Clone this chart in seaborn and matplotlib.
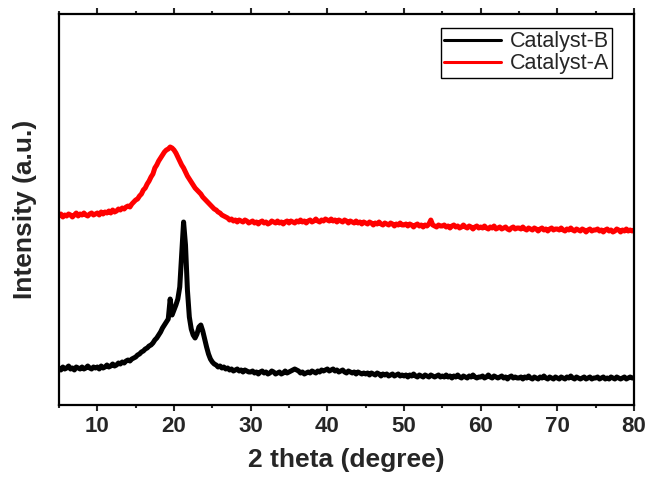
import numpy as np
import pandas as pd
import matplotlib
matplotlib.use("Agg")
import matplotlib.pyplot as plt
import seaborn as sns

# 2 theta grid, 0.25 degree steps from 5 to 80
two_theta = np.arange(5.0, 80.01, 0.25)

# Intensities (a.u.), one row = 5 degrees
catalyst_a = [
    189, 191, 188, 190, 189, 191, 190, 188, 190, 192, 189, 191, 190, 192, 190, 189, 191, 192, 190, 191,
    192, 190, 193, 191, 193, 192, 194, 192, 195, 193, 194, 196, 195, 197, 196, 198, 199, 198, 201, 203,
    205, 206, 209, 211, 215, 217, 221, 224, 228, 231, 237, 240, 244, 247, 250, 253, 255, 256, 258, 257,
    255, 252, 248, 244, 240, 237, 233, 229, 226, 223, 220, 217, 215, 213, 211, 208, 206, 204, 202, 200,
    198, 196, 195, 193, 192, 190, 189, 188, 187, 185, 186, 184, 185, 183, 185, 184, 183, 185, 184, 182,
    183, 184, 182, 183, 181, 183, 184, 182, 183, 181, 182, 184, 183, 182, 184, 182, 183, 181, 183, 184,
    182, 184, 183, 182, 184, 183, 185, 183, 184, 182, 184, 185, 183, 184, 186, 184, 183, 185, 184, 186,
    185, 184, 186, 184, 185, 183, 185, 184, 183, 185, 184, 182, 184, 183, 182, 184, 182, 183, 181, 183,
    182, 181, 183, 182, 180, 182, 181, 183, 181, 180, 182, 181, 180, 182, 181, 179, 181, 180, 182, 180,
    180, 181, 179, 181, 180, 178, 180, 181, 179, 180, 178, 180, 179, 181, 185, 180, 179, 178, 180, 179,
    179, 180, 178, 179, 177, 179, 180, 178, 179, 177, 178, 180, 178, 177, 179, 178, 176, 178, 179, 177,
    178, 177, 179, 177, 176, 178, 177, 179, 176, 177, 178, 176, 177, 178, 176, 175, 177, 178, 176, 177,
    177, 176, 178, 176, 175, 177, 176, 175, 177, 176, 174, 176, 177, 175, 176, 174, 176, 177, 175, 176,
    176, 175, 177, 175, 174, 176, 175, 177, 175, 174, 176, 175, 174, 176, 175, 173, 175, 176, 174, 175,
    175, 176, 174, 175, 173, 175, 176, 174, 175, 173, 174, 176, 175, 173, 175, 174, 176, 174, 175, 174,
    175,
]

catalyst_b = [
    37, 35, 38, 36, 37, 39, 36, 37, 35, 38, 37, 36, 38, 36, 37, 39, 37, 36, 38, 37,
    38, 36, 39, 37, 38, 40, 38, 39, 41, 39, 40, 42, 41, 43, 42, 44, 45, 44, 46, 47,
    48, 50, 51, 53, 54, 56, 57, 59, 60, 62, 65, 67, 70, 73, 77, 80, 83, 86, 106, 90,
    95, 100, 106, 118, 150, 183, 160, 115, 88, 76, 70, 67, 71, 78, 80, 74, 66, 58, 51, 46,
    43, 41, 40, 38, 39, 37, 38, 36, 37, 35, 36, 34, 35, 36, 34, 35, 33, 35, 34, 33,
    33, 34, 32, 33, 31, 33, 34, 32, 33, 31, 32, 34, 33, 31, 32, 33, 31, 32, 34, 32,
    33, 34, 35, 36, 35, 34, 32, 33, 31, 32, 33, 32, 34, 33, 32, 34, 33, 35, 34, 35,
    36, 34, 35, 36, 34, 35, 33, 34, 35, 33, 32, 34, 33, 32, 33, 31, 33, 32, 31, 32,
    31, 32, 30, 32, 31, 30, 32, 31, 29, 31, 30, 31, 29, 30, 31, 29, 30, 31, 29, 30,
    29, 30, 28, 30, 29, 31, 29, 28, 30, 29, 28, 30, 29, 28, 30, 29, 28, 29, 30, 28,
    29, 28, 30, 28, 29, 27, 29, 28, 30, 28, 27, 29, 28, 27, 29, 28, 30, 28, 27, 28,
    28, 29, 27, 28, 30, 28, 27, 29, 28, 27, 28, 29, 27, 28, 26, 28, 29, 27, 28, 27,
    27, 28, 26, 28, 27, 29, 27, 26, 28, 27, 26, 28, 27, 29, 27, 26, 28, 27, 26, 28,
    27, 26, 28, 27, 26, 28, 27, 29, 27, 26, 28, 27, 26, 27, 28, 26, 27, 28, 26, 27,
    27, 28, 26, 27, 28, 26, 27, 26, 28, 27, 26, 28, 27, 26, 27, 28, 26, 27, 28, 27,
    27,
]

samples = ["Catalyst-B", "Catalyst-A"]
colors = ["black", "red"]

df = pd.concat([
    pd.DataFrame({"two_theta": two_theta, "intensity": catalyst_b, "sample": "Catalyst-B"}),
    pd.DataFrame({"two_theta": two_theta, "intensity": catalyst_a, "sample": "Catalyst-A"}),
])

sns.set_style("ticks")
plt.rcParams["font.family"] = ["Liberation Sans", "DejaVu Sans"]

fig = plt.figure(figsize=(6.51, 4.82), dpi=100)
ax = fig.add_axes([59 / 651, 77 / 482, 575 / 651, 391 / 482])

sns.lineplot(data=df, x="two_theta", y="intensity", hue="sample",
             hue_order=samples, palette=colors, estimator=None, sort=False,
             linewidth=3.6, ax=ax)

ax.set_xlim(5, 80)
ax.set_ylim(0, 391)
ax.set_xticks(range(10, 81, 10))
ax.set_xticks(range(5, 81, 10), minor=True)
ax.set_yticks([])
ax.tick_params(axis="x", which="major", direction="out", length=4, width=1.5,
               top=True, labelsize=16, pad=4)
ax.tick_params(axis="x", which="minor", direction="out", length=2.5, width=1.5, top=True)
for lbl in ax.get_xticklabels():
    lbl.set_fontweight("bold")
for sp in ax.spines.values():
    sp.set_visible(True)
    sp.set_linewidth(1.6)
    sp.set_color("black")

ax.set_xlabel("2 theta (degree)", fontsize=19, fontweight="bold", labelpad=8)
ax.set_ylabel("Intensity (a.u.)", fontsize=19, fontweight="bold", labelpad=16)

leg = ax.legend(loc="upper right", bbox_to_anchor=((612 - 59) / 575, (405 - 28) / 391),
                borderaxespad=0, fontsize=15.5, handlelength=2.65, handletextpad=0.4,
                labelspacing=0.05, borderpad=0.15, fancybox=False, framealpha=1,
                edgecolor="black")
leg.get_frame().set_linewidth(1.0)
for line in leg.get_lines():
    line.set_linewidth(2.2)

fig.savefig("out.png", dpi=100)
